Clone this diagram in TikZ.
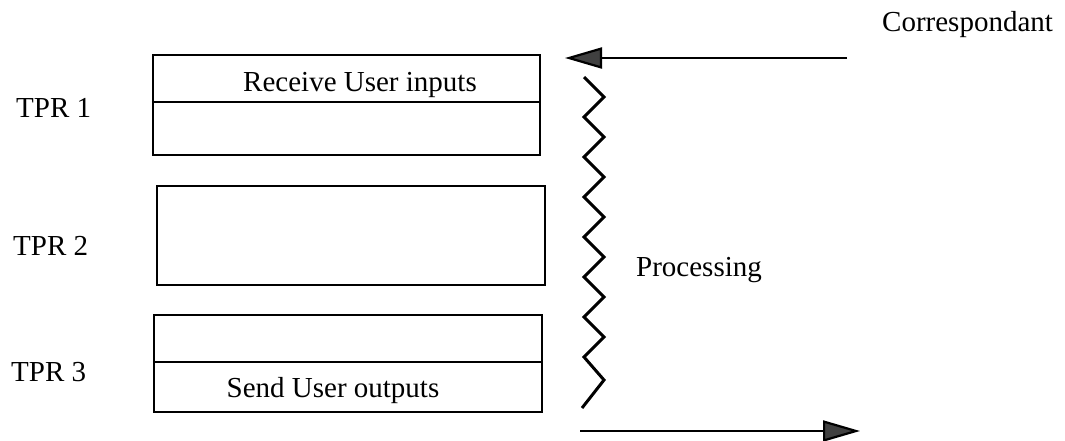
\documentclass[tikz,border=0pt]{standalone}
\usepackage{fontspec}
\setmainfont{Liberation Serif}
\usetikzlibrary{arrows.meta}
\begin{document}
\begin{tikzpicture}[x=1pt,y=-1pt,
  box/.style={draw=black, line width=2.2pt, rectangle, inner sep=0pt},
  lbl/.style={inner sep=0pt, anchor=base west, font=\fontsize{29}{35}\selectfont},
  clbl/.style={inner sep=0pt, anchor=base, font=\fontsize{29}{35}\selectfont},
  flow/.style={line width=2.2pt, -{Triangle[length=37pt,width=21pt,fill=black!75]}},
  zig/.style={line width=3pt, line join=miter}
]
\useasboundingbox (0,0) rectangle (1065,440);
% boxes
\node[box, minimum width=387pt, minimum height=100pt] (b1) at (346.5,105) {};
\node[box, minimum width=388pt, minimum height=99pt] (b2) at (351,235.5) {};
\node[box, minimum width=388pt, minimum height=97pt] (b3) at (348,363.5) {};
\draw[line width=2pt] (b1.west |- 0,102) -- (b1.east |- 0,102);
\draw[line width=2pt] (b3.west |- 0,362) -- (b3.east |- 0,362);
% texts
\node[clbl] (t1) at (360,91) {Receive User inputs};
\node[clbl] (t3) at (333,397) {Send User outputs};
\node[lbl] (tpr1) at (16,117) {TPR 1};
\node[lbl] (tpr2) at (13,255) {TPR 2};
\node[lbl] (tpr3) at (11,381) {TPR 3};
\node[lbl] (proc) at (636,276) {Processing};
\node[lbl] (corr) at (882,31) {Correspondant};
% arrows
\coordinate (intail) at (847,58);
\coordinate (inhead) at (565,58);
\coordinate (outtail) at (580,431);
\coordinate (outhead) at (860,431);
\draw[flow] (intail) -- (inhead);
\draw[flow] (outtail) -- (outhead);
% zigzag
\draw[zig] (584,77) -- (604,97) -- (584,117) -- (604,137) -- (584,157)
  -- (604,177) -- (584,197) -- (604,217) -- (584,237) -- (604,257)
  -- (584,277) -- (604,297) -- (584,317) -- (604,337) -- (584,357)
  -- (604,380) -- (582,408);
\end{tikzpicture}
\end{document}
